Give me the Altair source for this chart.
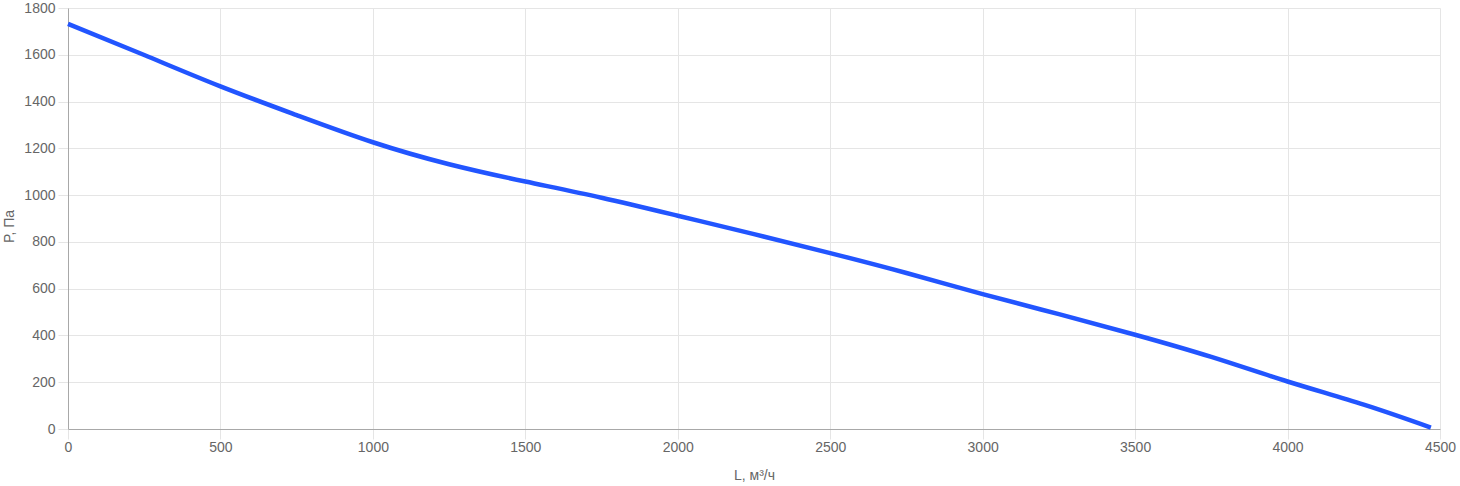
import altair as alt
import pandas as pd

flow = [0, 250, 500, 750, 1000, 1250, 1500, 1750, 2000, 2250, 2500, 2750, 3000, 3250, 3500, 3750, 4000, 4250, 4470]
pressure = [1732, 1599, 1465, 1342, 1226, 1132, 1058, 989, 912, 833, 752, 667, 577, 491, 403, 308, 203, 104, 6]

df = pd.DataFrame({"L": flow, "P": pressure})

FONT = "Liberation Sans"

chart = alt.Chart(df).mark_line(
    color="#2255ff", strokeWidth=4.5, interpolate="natural", strokeCap="butt"
).encode(
    x=alt.X("L:Q", title="L, м³/ч",
            scale=alt.Scale(domain=[0, 4500], nice=False, zero=False),
            axis=alt.Axis(values=list(range(0, 4501, 500)), format="d", tickSize=10, labelPadding=1,
                          titlePadding=14)),
    y=alt.Y("P:Q", title="P, Па",
            scale=alt.Scale(domain=[0, 1800], nice=False),
            axis=alt.Axis(values=list(range(0, 1801, 200)), format="d", tickSize=10, labelPadding=3,
                          titleX=-55, titleY=218, titleBaseline="alphabetic", titleAngle=270)),
).properties(
    width=1372, height=421,
    autosize=alt.AutoSizeParams(type="none"),
    padding={"left": 68, "top": 8, "right": 20, "bottom": 57},
).configure_view(
    stroke=None
).configure_axis(
    labelFont=FONT, labelFontSize=14, labelColor="#666666",
    titleFont=FONT, titleFontSize=14, titleColor="#666666", titleFontWeight="normal",
    gridColor="#e5e5e5", tickColor="#e5e5e5", domainColor="#a8a8a8",
    labelFlush=False, labelOverlap=False,
)

chart.save("out.html", embed_options={"renderer": "svg", "actions": False})
